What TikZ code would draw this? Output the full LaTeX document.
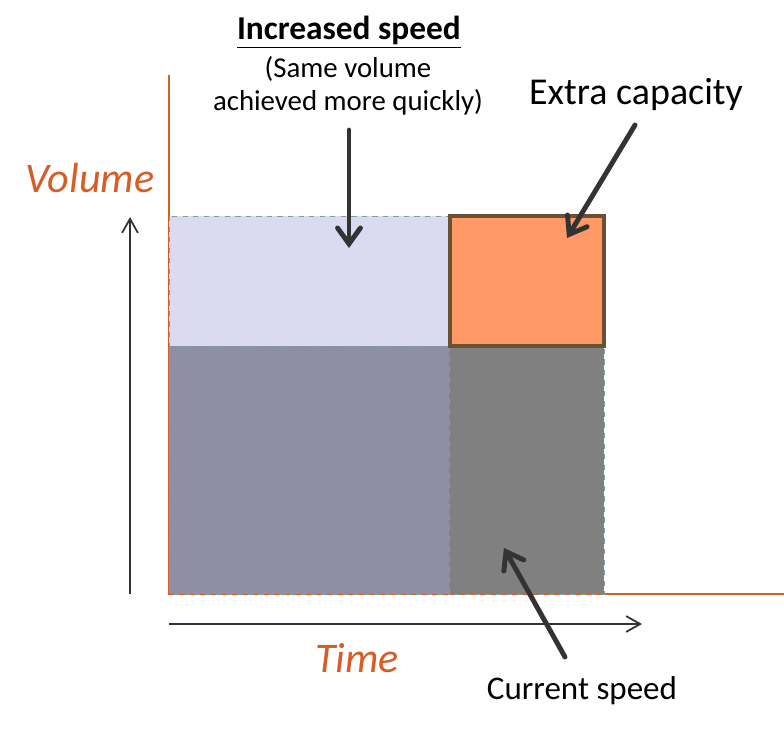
\documentclass[tikz,border=0pt]{standalone}
\usepackage{fontspec}
\setmainfont{Carlito}
\usetikzlibrary{arrows.meta}
\definecolor{axisorange}{RGB}{214,94,36}
\definecolor{lightlav}{RGB}{218,218,240}
\definecolor{darklav}{RGB}{142,142,166}
\definecolor{midgray}{RGB}{128,128,128}
\definecolor{extraorange}{RGB}{255,153,102}
\definecolor{boxbrown}{RGB}{105,82,52}
\definecolor{edgeteal}{RGB}{125,160,165}
\definecolor{arrowgray}{RGB}{51,51,51}

\begin{document}
\begin{tikzpicture}[x=0.02cm, y=-0.02cm,
	bigarrow/.style={draw=arrowgray, line width=2.8pt, line cap=round,
		-{Straight Barb[length=9pt,width=13pt,line cap=round]}},
	axisarrow/.style={draw=arrowgray, line width=1pt,
		-{Straight Barb[length=8pt,width=9pt]}},
	cell/.style={draw=edgeteal, dashed, line width=0.5pt},
	label/.style={font=\fontsize{16.4}{18.7}\selectfont, inner sep=0pt, text=black},
	axislabel/.style={font=\itshape\fontsize{24}{28}\selectfont, text=axisorange, inner sep=0pt}]
	\useasboundingbox (0,0) rectangle (784,731);

	% orange axes
	\draw[axisorange, line width=1.2pt] (169,75)--(169,594)--(784,594);

	% the four blocks
	\filldraw[cell, fill=lightlav] (169,216) rectangle (449,346);
	\filldraw[cell, fill=darklav] (169,346) rectangle (449,594);
	\filldraw[cell, fill=midgray] (449,346) rectangle (604,594);
	\filldraw[draw=boxbrown, fill=extraorange, line width=1.8pt] (450,216) rectangle (604,346);

	% texts
	\node[label, font=\bfseries\fontsize{19}{22}\selectfont] (inctitle) at (349,32) {\underline{Increased speed}};
	\node[label, align=center] (incnote) at (348,86) {(Same volume\\achieved more quickly)};
	\node[label, font=\fontsize{21.6}{25}\selectfont] (extra) at (636,94) {Extra capacity};
	\node[label, font=\fontsize{18.8}{22}\selectfont] (current) at (582,691) {Current speed};
	\node[axislabel] (volume) at (90,178) {Volume};
	\node[axislabel] (time) at (357,658) {Time};

	% free ends of the arrows
	\coordinate (incfrom) at (349,130);
	\coordinate (incto) at (349,248);
	\coordinate (extrafrom) at (635,125);
	\coordinate (extrato) at (567,238);
	\coordinate (curfrom) at (565,657);
	\coordinate (curto) at (504,548);
	\coordinate (volbase) at (130,594);
	\coordinate (voltop) at (130,217);
	\coordinate (timebase) at (169,624);
	\coordinate (timetip) at (642,624);

	\draw[bigarrow] (incfrom)--(incto);
	\draw[bigarrow] (extrafrom)--(extrato);
	\draw[bigarrow] (curfrom)--(curto);
	\draw[axisarrow] (volbase)--(voltop);
	\draw[axisarrow] (timebase)--(timetip);
\end{tikzpicture}
\end{document}
